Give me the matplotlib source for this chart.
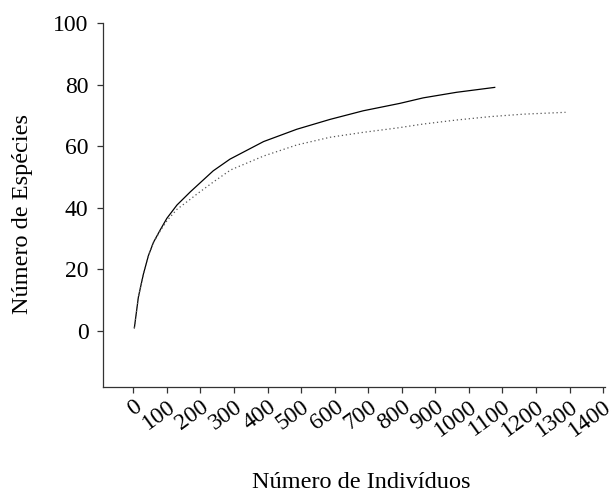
import matplotlib
matplotlib.use('Agg')
from matplotlib import pyplot as plt

# curve readings (individuals, species)
obs_x = [3, 15, 30, 45, 60, 80, 100, 130, 170, 238, 288, 388, 487, 586, 685, 794, 864, 963, 1077]
obs_y = [1, 11, 18.5, 24.5, 28.8, 32.8, 36.6, 40.9, 45.2, 52, 55.8, 61.5, 65.5, 68.7, 71.5, 73.9, 75.7, 77.5, 79.1]

est_x = [3, 15, 30, 45, 60, 80, 100, 130, 170, 190, 240, 290, 388, 487, 586, 685, 785, 864, 963, 1063, 1162, 1288]
est_y = [1, 11, 18.5, 24.5, 28.8, 32.5, 35.8, 39.5, 42.8, 44.5, 48.5, 52.3, 56.8, 60.4, 62.9, 64.5, 65.9, 67.2, 68.5, 69.6, 70.4, 71]

x_ticks = list(range(0, 1401, 100))
y_ticks = [0, 20, 40, 60, 80, 100]

plt.rcParams['font.family'] = ['Liberation Serif', 'DejaVu Serif']

fig = plt.figure(figsize=(6.14, 4.92), dpi=100)
ax = fig.add_axes([0.168, 0.2134, 0.817, 0.7398])

ax.plot(obs_x, obs_y, color='black', lw=0.9)
ax.plot(est_x, est_y, color='#555555', lw=0.9, linestyle=(0, (1, 2.2)))

ax.set_xlim(-90, 1405)
ax.set_ylim(-18.2, 100)
ax.set_xticks(x_ticks)
ax.set_yticks(y_ticks)
ax.set_xticklabels([str(v) for v in x_ticks], rotation=36, ha='right',
                   rotation_mode='anchor', fontsize=17)
ax.set_yticklabels([str(v) for v in y_ticks], fontsize=17)

for s in ['top', 'right']:
    ax.spines[s].set_visible(False)
for s in ['left', 'bottom']:
    ax.spines[s].set_color('#333333')
    ax.spines[s].set_linewidth(0.9)
ax.tick_params(direction='out', length=4.5, width=0.9, color='#333333')
ax.tick_params(axis='x', pad=2)
ax.tick_params(axis='y', pad=6)

ax.set_xlabel('Número de Indivíduos', fontsize=17.5, va='top')
ax.xaxis.set_label_coords(0.514, -0.234)
ax.set_ylabel('Número de Espécies', fontsize=17.5, va='bottom')
ax.yaxis.set_label_coords(-0.139, 0.475)

fig.savefig('out.png', dpi=100)
